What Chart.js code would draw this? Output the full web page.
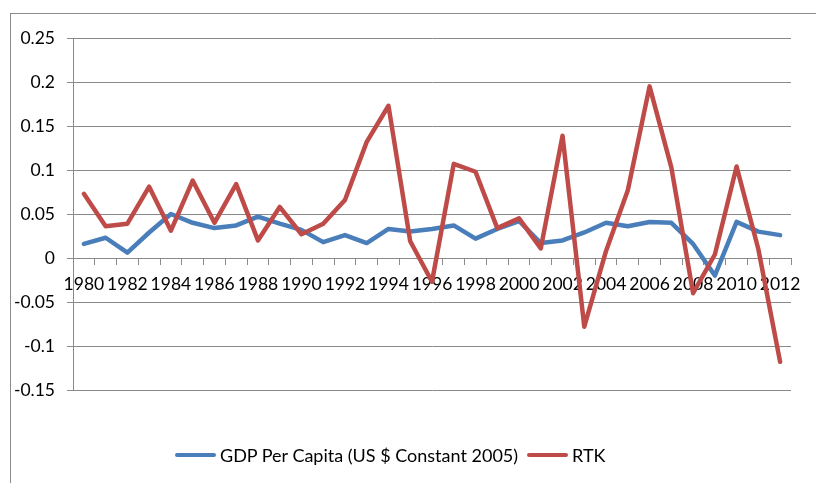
<!DOCTYPE html>
<html>
<head>
<meta charset="utf-8">
<script src="https://cdn.jsdelivr.net/npm/chart.js@4/dist/chart.umd.min.js"></script>
<style>
  html, body { margin: 0; padding: 0; background: #fff; overflow: hidden; }
  #wrap { position: relative; width: 816px; height: 483px; overflow: hidden; }
  #frame { position: absolute; left: 10px; top: 13px; width: 830px; height: 480px; border: 1px solid #8c8c8c; box-sizing: border-box; }
  canvas { position: absolute; left: 0; top: 0; }
  #legend { position: absolute; top: 444px; left: 175px; height: 22px; display: flex; align-items: center; font-family: Lato, "Liberation Sans", sans-serif; font-size: 18px; color: #000; white-space: nowrap; }
  .item { display: flex; align-items: center; margin-right: 9px; }
  .swatch { width: 41px; height: 4px; border-radius: 2px; margin-right: 4px; }
</style>
</head>
<body>
<div id="wrap">
  <div id="frame"></div>
  <canvas id="c" width="816" height="483"></canvas>
  <div id="legend"></div>
</div>
<script>
const years = ['1980','1981','1982','1983','1984','1985','1986','1987','1988','1989',
  '1990','1991','1992','1993','1994','1995','1996','1997','1998','1999',
  '2000','2001','2002','2003','2004','2005','2006','2007','2008','2009',
  '2010','2011','2012'];
const gdpName = 'GDP Per Capita (US $ Constant 2005)';
const rtkName = 'RTK';
const gdpValues = [0.016, 0.023, 0.006, 0.029, 0.050, 0.040, 0.034, 0.037, 0.047, 0.039,
  0.032, 0.018, 0.026, 0.017, 0.033, 0.030, 0.033, 0.037, 0.022, 0.033,
  0.042, 0.017, 0.020, 0.029, 0.040, 0.036, 0.041, 0.040, 0.016, -0.020,
  0.041, 0.030, 0.026];
const rtkValues = [0.073, 0.036, 0.039, 0.081, 0.031, 0.088, 0.040, 0.084, 0.020, 0.058,
  0.027, 0.039, 0.066, 0.132, 0.173, 0.019, -0.027, 0.107, 0.098, 0.034,
  0.045, 0.011, 0.139, -0.078, 0.008, 0.077, 0.195, 0.103, -0.040, 0.004,
  0.104, 0.010, -0.118];
const yTicks = [0.25, 0.2, 0.15, 0.1, 0.05, 0, -0.05, -0.1, -0.15];

const blue = '#4A7EBB';
const red = '#BE4B48';
const gridColor = '#8a8a8a';
const fontFamily = 'Lato, "Liberation Sans", sans-serif';

const chart = new Chart(document.getElementById('c'), {
  type: 'line',
  data: {
    labels: years,
    datasets: [
      { label: gdpName, data: gdpValues, borderColor: blue, backgroundColor: blue, order: 1 },
      { label: rtkName, data: rtkValues, borderColor: red, backgroundColor: red, order: 0 }
    ]
  },
  options: {
    responsive: false,
    animation: false,
    devicePixelRatio: 1,
    layout: { padding: { top: 38, right: 25, bottom: 93, left: 0 } },
    elements: {
      line: { borderWidth: 4.5, tension: 0, borderJoinStyle: 'round', borderCapStyle: 'round' },
      point: { radius: 0, hoverRadius: 0 }
    },
    plugins: { legend: { display: false }, tooltip: { enabled: false } },
    scales: {
      x: {
        type: 'category',
        position: { y: 0 },
        offset: true,
        grid: { display: true, drawOnChartArea: false, drawTicks: true, tickLength: 6, offset: true, color: gridColor, lineWidth: 1 },
        border: { display: true, color: gridColor, width: 1 },
        ticks: {
          autoSkip: false, maxRotation: 0, minRotation: 0, padding: 10,
          color: '#000', font: { family: fontFamily, size: 17.5 },
          callback: function(v, i) { return i % 2 === 0 ? years[i] : ''; }
        }
      },
      y: {
        min: -0.15, max: 0.25,
        afterBuildTicks: function(s) { s.ticks = yTicks.map(v => ({ value: v })); },
        afterFit: function(s) { s.width = 73; },
        grid: { color: gridColor, lineWidth: 1, drawTicks: true, tickLength: 6 },
        border: { display: true, color: gridColor, width: 1 },
        ticks: {
          padding: 12, color: '#000', font: { family: fontFamily, size: 17.5 },
          callback: function(v) { return String(Math.round(v * 100) / 100); }
        }
      }
    }
  }
});

const legend = document.getElementById('legend');
chart.data.datasets.forEach(ds => {
  const item = document.createElement('div');
  item.className = 'item';
  const sw = document.createElement('span');
  sw.className = 'swatch';
  sw.style.background = ds.borderColor;
  const tx = document.createElement('span');
  tx.textContent = ds.label;
  item.appendChild(sw); item.appendChild(tx);
  legend.appendChild(item);
});
</script>
</body>
</html>
